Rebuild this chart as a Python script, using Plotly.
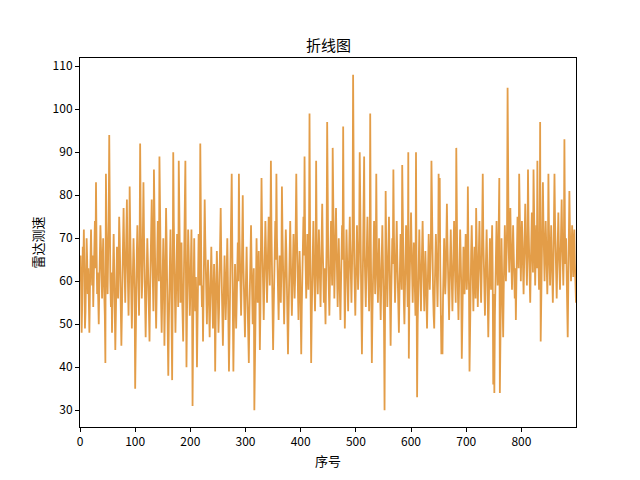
import plotly.graph_objects as go

title_text = "折线图"
x_label = "序号"
y_label = "雷达测速"

speed_values = [
    60, 66, 58, 48, 55, 68, 64, 72, 61, 49, 53, 62, 70, 65, 57, 63, 52, 48, 58, 67,
    72, 64, 59, 66, 54, 61, 70, 74, 63, 83, 68, 57, 62, 55, 50, 59, 65, 73, 68, 60,
    56, 64, 70, 62, 58, 52, 41, 85, 72, 63, 57, 66, 74, 94, 69, 60, 54, 62, 48, 57,
    65, 71, 63, 55, 44, 52, 61, 68, 60, 56, 64, 75, 70, 62, 58, 45, 53, 60, 69, 77,
    68, 61, 55, 63, 71, 79, 66, 58, 52, 60, 82, 72, 64, 57, 49, 56, 63, 70, 65, 58,
    35, 50, 61, 67, 73, 64, 58, 52, 66, 92, 75, 63, 56, 60, 68, 83, 71, 62, 54, 47,
    55, 63, 70, 65, 58, 50, 46, 57, 64, 72, 79, 67, 60, 53, 86, 70, 61, 56, 49, 58,
    66, 74, 68, 60, 89, 71, 63, 55, 48, 57, 64, 70, 62, 45, 54, 61, 77, 69, 60, 52,
    38, 50, 59, 66, 72, 63, 55, 37, 58, 90, 74, 65, 57, 48, 56, 64, 71, 62, 54, 88,
    70, 61, 55, 63, 69, 57, 50, 46, 58, 66, 75, 88, 62, 40, 53, 64, 72, 67, 59, 52,
    57, 65, 72, 60, 31, 48, 63, 70, 58, 53, 61, 55, 40, 52, 64, 71, 66, 59, 92, 68,
    61, 54, 59, 46, 55, 64, 79, 70, 62, 56, 50, 58, 65, 60, 52, 47, 55, 63, 68, 61,
    54, 49, 57, 64, 58, 39, 51, 60, 67, 62, 55, 48, 53, 61, 69, 77, 66, 58, 52, 45,
    53, 60, 66, 59, 51, 56, 63, 70, 61, 54, 39, 48, 57, 64, 71, 85, 68, 59, 39, 50,
    58, 64, 56, 49, 55, 62, 69, 60, 85, 71, 63, 57, 52, 60, 67, 80, 65, 58, 51, 47,
    55, 62, 68, 60, 53, 48, 41, 52, 59, 66, 73, 64, 57, 50, 58, 63, 30, 45, 56, 64,
    70, 62, 55, 60, 67, 57, 44, 53, 63, 84, 72, 65, 58, 51, 59, 66, 74, 68, 61, 55,
    62, 69, 75, 66, 59, 70, 88, 72, 63, 56, 44, 53, 61, 67, 74, 65, 85, 70, 62, 57,
    51, 59, 66, 60, 55, 63, 82, 71, 64, 57, 50, 58, 65, 72, 67, 60, 54, 43, 52, 61,
    68, 74, 66, 59, 52, 58, 65, 71, 63, 56, 61, 70, 85, 72, 64, 57, 51, 60, 67, 62,
    55, 43, 54, 62, 69, 75, 66, 89, 70, 61, 56, 63, 71, 64, 58, 67, 99, 72, 53, 41,
    52, 60, 67, 74, 65, 58, 53, 61, 88, 70, 63, 57, 64, 72, 66, 59, 54, 62, 69, 78,
    68, 61, 55, 63, 57, 50, 60, 69, 97, 73, 64, 58, 52, 60, 67, 74, 65, 59, 91, 70,
    62, 56, 64, 71, 77, 68, 60, 54, 62, 70, 63, 57, 51, 59, 66, 73, 65, 96, 72, 63,
    49, 57, 65, 72, 66, 59, 53, 61, 68, 75, 67, 60, 55, 63, 70, 108, 74, 64, 58, 52,
    60, 67, 73, 65, 58, 62, 70, 90, 68, 59, 53, 43, 55, 63, 71, 89, 66, 60, 54, 62,
    69, 75, 67, 59, 53, 61, 99, 70, 58, 41, 52, 60, 67, 74, 65, 57, 63, 85, 68, 61,
    55, 62, 70, 64, 57, 51, 59, 66, 73, 65, 58, 50, 30, 48, 81, 68, 60, 54, 62, 69,
    75, 66, 58, 45, 56, 63, 70, 64, 86, 71, 62, 55, 60, 68, 74, 66, 59, 52, 48, 57,
    64, 71, 65, 58, 87, 70, 62, 55, 50, 58, 66, 73, 67, 60, 54, 90, 42, 56, 63, 70,
    76, 68, 61, 55, 62, 69, 64, 57, 52, 90, 63, 33, 50, 58, 66, 72, 65, 59, 53, 61,
    68, 74, 66, 59, 53, 60, 67, 62, 56, 49, 57, 64, 71, 65, 58, 63, 70, 88, 72, 64,
    57, 52, 49, 58, 65, 71, 66, 60, 54, 62, 85, 69, 84, 63, 55, 43, 52, 43, 56, 64,
    70, 63, 57, 61, 68, 78, 69, 62, 56, 51, 59, 66, 72, 65, 58, 53, 60, 67, 74, 66,
    60, 55, 91, 70, 62, 57, 51, 58, 65, 72, 66, 59, 42, 53, 61, 68, 63, 57, 64, 71,
    65, 58, 62, 82, 67, 59, 39, 52, 60, 67, 73, 64, 58, 53, 61, 68, 62, 56, 77, 66,
    59, 54, 61, 68, 74, 66, 60, 55, 62, 69, 85, 70, 63, 57, 52, 60, 67, 72, 65, 58,
    47, 55, 63, 70, 64, 58, 66, 73, 62, 36, 57, 34, 52, 61, 68, 74, 66, 59, 63, 70,
    84, 34, 55, 63, 70, 62, 56, 47, 58, 66, 73, 67, 60, 65, 72, 105, 76, 68, 62, 70,
    77, 69, 63, 58, 66, 73, 67, 61, 56, 63, 51, 60, 68, 75, 70, 63, 85, 72, 65, 60,
    67, 74, 69, 62, 57, 64, 71, 78, 70, 63, 59, 66, 86, 73, 66, 60, 55, 63, 70, 76,
    68, 62, 86, 72, 65, 59, 66, 73, 63, 88, 71, 64, 58, 62, 97, 46, 56, 64, 71, 83,
    73, 66, 60, 67, 74, 69, 62, 57, 64, 85, 72, 65, 59, 66, 73, 67, 61, 55, 62, 70,
    85, 74, 67, 61, 56, 63, 70, 76, 68, 62, 58, 65, 72, 79, 70, 64, 59, 66, 93, 71,
    64, 70, 62, 57, 47, 59, 66, 81, 72, 65, 60, 67, 73, 66, 61, 69, 72, 64, 60, 55,
]
index_values = list(range(len(speed_values)))

x_ticks = [0, 100, 200, 300, 400, 500, 600, 700, 800]
y_ticks = [30, 40, 50, 60, 70, 80, 90, 100, 110]

font_family = "Noto Sans CJK SC, DejaVu Sans, sans-serif"

fig = go.Figure()
fig.add_trace(go.Scatter(
    x=index_values, y=speed_values, mode="lines",
    line=dict(color="#e39d48", width=1.8),
    showlegend=False,
))

lo, hi = min(speed_values), max(speed_values)
pad = (hi - lo) * 0.05

axis_common = dict(
    showline=True, linecolor="black", linewidth=1, mirror=True,
    ticks="outside", ticklen=4, tickwidth=1, tickcolor="black",
    showgrid=False, zeroline=False, automargin=False,
    tickfont=dict(family=font_family, size=12, color="black"),
)

# page has an 8px body margin; target plot area on page: x 80..576, y 57.6..427.2
OFF = 8
L = 80 - OFF
T = 57.6 - OFF
R = 640 - (576 - OFF)
B = 480 - (427.2 - OFF)
PH = 480 - T - B
PW = 640 - L - R


def py_to_paper(py):
    return (480 - B - (py - OFF)) / PH


def px_to_paper(px):
    return ((px - OFF) - L) / PW


fig.update_layout(
    width=640, height=480,
    margin=dict(l=L, r=R, t=T, b=B, pad=0),
    paper_bgcolor="white", plot_bgcolor="white",
    xaxis=dict(range=[0, len(speed_values) - 1], tickvals=x_ticks, **axis_common),
    yaxis=dict(range=[lo - pad, hi + pad], tickvals=y_ticks, **axis_common),
    annotations=[
        dict(text=title_text, x=0.5, y=py_to_paper(44), xref="paper", yref="paper",
             showarrow=False, font=dict(family=font_family, size=15, color="black"),
             xanchor="center", yanchor="middle"),
        dict(text=x_label, x=0.5, y=py_to_paper(461), xref="paper", yref="paper",
             showarrow=False, font=dict(family=font_family, size=13, color="black"),
             xanchor="center", yanchor="middle"),
        dict(text=y_label, x=px_to_paper(37), y=0.5, xref="paper", yref="paper",
             showarrow=False, textangle=-90,
             font=dict(family=font_family, size=13, color="black"),
             xanchor="center", yanchor="middle"),
    ],
)

fig.write_html("out.html")
